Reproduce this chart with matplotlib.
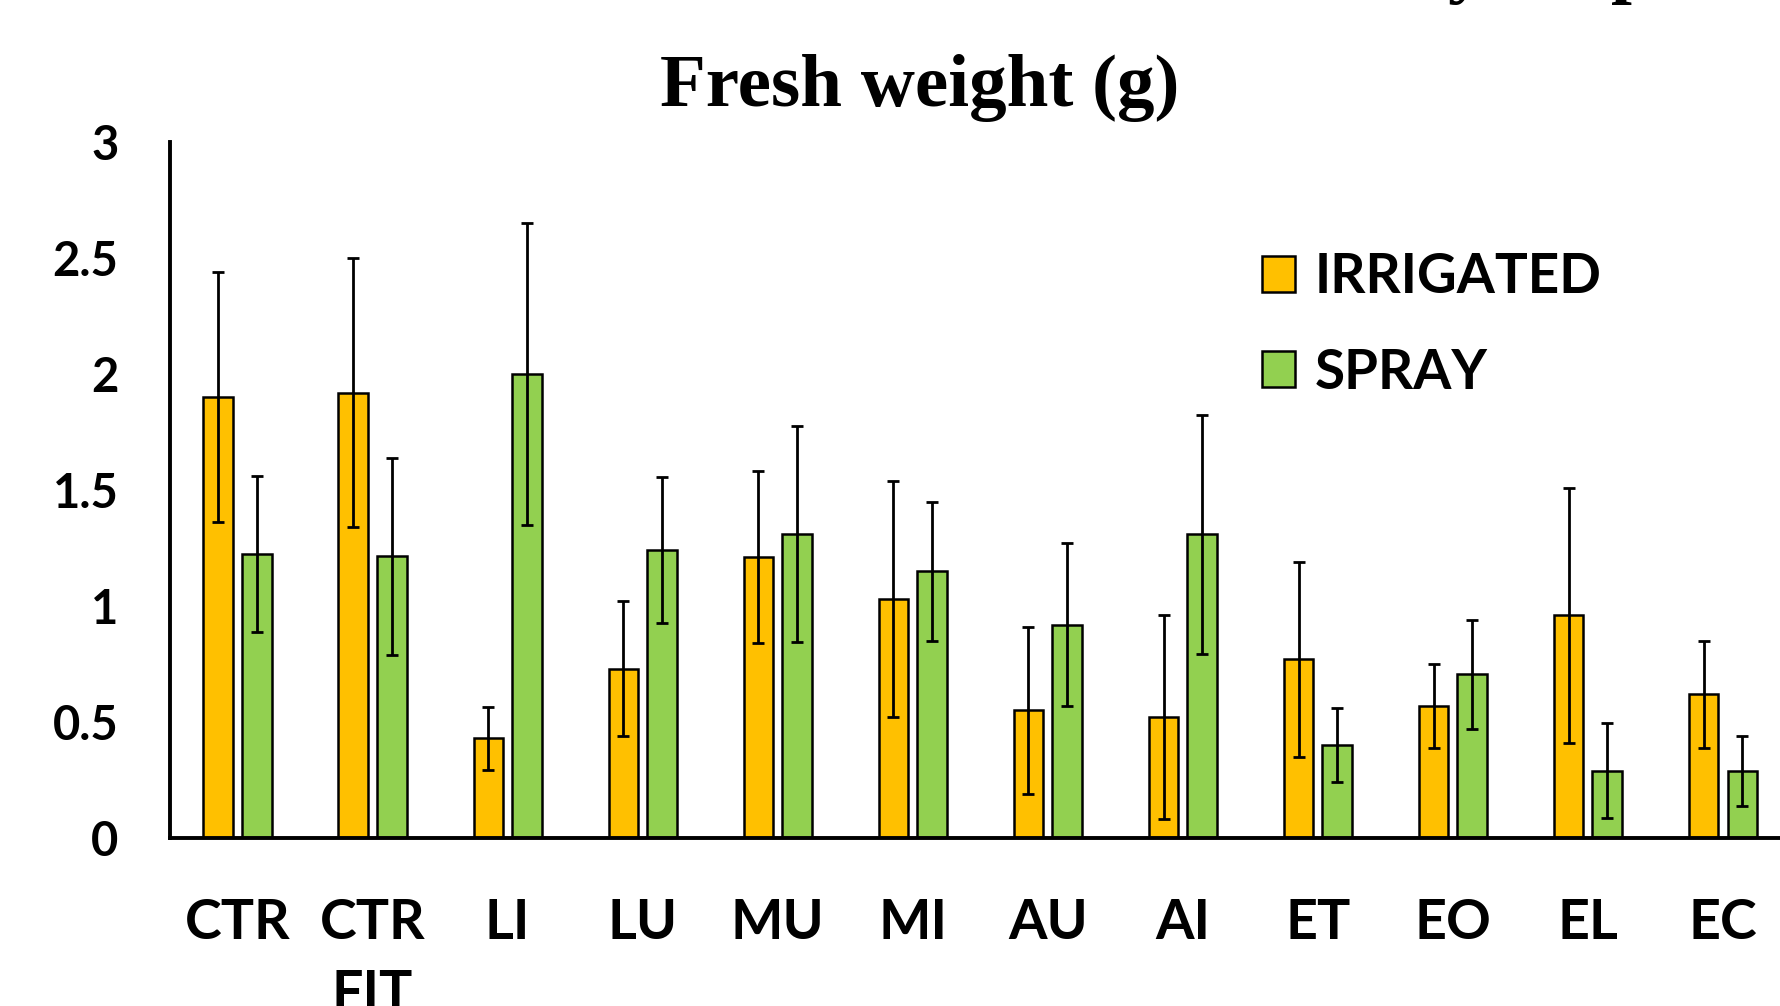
import matplotlib
matplotlib.use("Agg")
import matplotlib.pyplot as plt
import numpy as np

categories = ["CTR", "CTR\nFIT", "LI", "LU", "MU", "MI", "AU", "AI", "ET", "EO", "EL", "EC"]
irrigated = [1.90, 1.92, 0.43, 0.73, 1.21, 1.03, 0.55, 0.52, 0.77, 0.57, 0.96, 0.62]
irrigated_err = [0.54, 0.58, 0.135, 0.29, 0.37, 0.51, 0.36, 0.44, 0.42, 0.18, 0.55, 0.23]
spray = [1.225, 1.215, 2.00, 1.24, 1.31, 1.15, 0.92, 1.31, 0.40, 0.705, 0.29, 0.29]
spray_err = [0.335, 0.425, 0.65, 0.315, 0.465, 0.30, 0.35, 0.515, 0.16, 0.235, 0.205, 0.15]
series_labels = ["IRRIGATED", "SPRAY"]
yticks = [0, 0.5, 1, 1.5, 2, 2.5, 3]
ytick_labels = ["0", "0.5", "1", "1.5", "2", "2.5", "3"]
title = "Fresh weight (g)"

W, H = 1780, 1006
fig = plt.figure(figsize=(W / 100, H / 100), dpi=100)
fig.patch.set_facecolor("white")

left_px, right_px, top_px, bottom_px = 170, 1790.5, 142, 838
ax = fig.add_axes([left_px / W, 1 - bottom_px / H, (right_px - left_px) / W, (bottom_px - top_px) / H])

x = np.arange(len(categories))
bw = 0.2185
off = 0.143
orange = "#FFC000"
green = "#92D050"

ax.bar(x - off, irrigated, bw, color=orange, edgecolor="black", linewidth=1.8, label=series_labels[0], zorder=2)
ax.bar(x + off, spray, bw, color=green, edgecolor="black", linewidth=1.8, label=series_labels[1], zorder=2)
ax.errorbar(x - off, irrigated, yerr=irrigated_err, fmt="none", ecolor="black", elinewidth=2.0,
            capsize=4.5, capthick=2.0, zorder=3)
ax.errorbar(x + off, spray, yerr=spray_err, fmt="none", ecolor="black", elinewidth=2.0,
            capsize=4.5, capthick=2.0, zorder=3)

ax.set_xlim(-0.5, 11.5)
ax.set_ylim(0, 3)
ax.spines["top"].set_visible(False)
ax.spines["right"].set_visible(False)
ax.spines["left"].set_linewidth(2.8)
ax.spines["bottom"].set_linewidth(2.8)
ax.spines["left"].set_capstyle("projecting")
ax.spines["bottom"].set_capstyle("projecting")

lab_font = dict(family="Lato", weight="bold")
ax.set_yticks(yticks)
ax.set_yticklabels(ytick_labels, fontsize=34, **lab_font)
ax.set_xticks(x)
ax.set_xticklabels(categories, fontsize=40, linespacing=1.52, **lab_font)
ax.tick_params(axis="y", length=0, pad=37)
ax.tick_params(axis="x", length=0, pad=43)

leg = ax.legend(loc="upper left", bbox_to_anchor=(1262 / W, 1 - 252 / H), bbox_transform=fig.transFigure,
                frameon=False, prop=dict(family="Lato", weight="bold", size=39.5),
                handlelength=0.6, handleheight=0.64, handletextpad=0.36, labelspacing=0.83,
                borderpad=0, borderaxespad=0)
for p in leg.get_patches():
    p.set_linewidth(1.8)

fig.text(919.5 / W, 1 - 106 / H, title, ha="center", va="baseline", fontsize=54,
         family="Liberation Serif", weight="bold")

# cut-off text fragments at the very top of the image
fig.text(1466 / W, 1 + 11 / H, "y", ha="center", va="baseline", fontsize=54,
         family="Liberation Serif", weight="bold")
fig.text(1632 / W, 1 + 11 / H, "p", ha="center", va="baseline", fontsize=54,
         family="Liberation Serif", weight="bold")

fig.savefig("out.png", dpi=100, facecolor="white")
